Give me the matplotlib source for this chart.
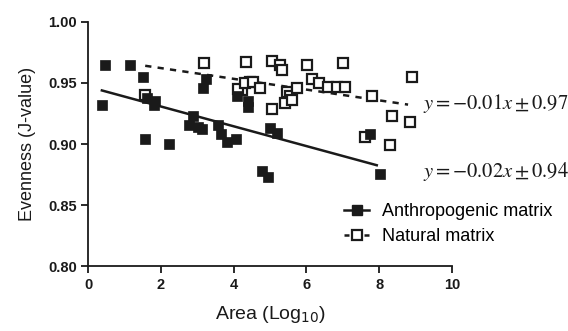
import numpy as np
import matplotlib
matplotlib.use('Agg')
import matplotlib.pyplot as plt

# anthropogenic matrix (filled squares)
anth_x = [0.37, 0.47, 1.15, 1.52, 1.61, 1.84, 1.80, 1.57, 2.22, 3.24, 3.17,
          2.89, 2.76, 3.12, 3.02, 3.58, 3.66, 3.81, 4.07, 4.08, 4.40, 4.38,
          4.77, 4.93, 5.00, 5.18, 7.75, 8.02]
anth_y = [0.932, 0.965, 0.965, 0.955, 0.938, 0.935, 0.932, 0.904, 0.900, 0.953, 0.946,
          0.923, 0.916, 0.912, 0.914, 0.916, 0.908, 0.902, 0.904, 0.939, 0.935, 0.930,
          0.878, 0.873, 0.913, 0.909, 0.908, 0.876]

# natural matrix (open squares)
nat_x = [1.57, 3.19, 4.33, 4.45, 4.22, 4.13, 4.31, 5.05, 5.27, 5.32, 6.01, 7.01,
         4.54, 4.73, 5.05, 5.46, 5.55, 5.41, 5.60, 5.73, 6.14, 6.33, 6.60, 6.83,
         7.06, 7.79, 8.89, 8.34, 8.85, 7.61, 8.30]
nat_y = [0.940, 0.966, 0.967, 0.951, 0.944, 0.945, 0.950, 0.968, 0.965, 0.961, 0.965, 0.966,
         0.951, 0.946, 0.929, 0.943, 0.939, 0.934, 0.936, 0.946, 0.953, 0.950, 0.947, 0.947,
         0.947, 0.939, 0.955, 0.923, 0.918, 0.906, 0.899]

# fitted lines as drawn (slope, intercept, x range)
anth_fit = (-0.0081, 0.947, 0.38, 7.93)
nat_fit = (-0.0044, 0.971, 1.57, 8.79)

eq_labels = [r'$y=-0.01x\pm0.97$', r'$y=-0.02x\pm0.94$']
eq_y = [0.929, 0.873]

xticks = [0, 2, 4, 6, 8, 10]
yticks = [0.80, 0.85, 0.90, 0.95, 1.00]

plt.rcParams['font.family'] = ['Liberation Sans', 'DejaVu Sans']
plt.rcParams['mathtext.fontset'] = 'stix'

fig = plt.figure(figsize=(5.68, 3.31), dpi=100)
ax = fig.add_axes([0.155, 0.195, 0.641, 0.739])

c = '#1a1a1a'
s, b, x0, x1 = anth_fit
fx = np.array([x0, x1])
ax.plot(fx, s * fx + b, color=c, lw=1.8, zorder=1)
s, b, x0, x1 = nat_fit
fx = np.array([x0, x1])
ax.plot(fx, s * fx + b, color=c, lw=1.8, ls=(0, (2.5, 2.5)), zorder=1)

ax.plot(nat_x, nat_y, 's', ms=7.5, mfc='white', mec=c, mew=1.6, ls='none', zorder=2)
ax.plot(anth_x, anth_y, 's', ms=7.5, mfc=c, mec=c, mew=0.5, ls='none', zorder=3)

for lab, yy in zip(eq_labels, eq_y):
    ax.text(9.2, yy, lab, fontsize=14.8, color=c, ha='left', va='baseline', clip_on=False)

# legend handles
h1, = ax.plot([], [], '-s', color=c, ms=7.5, mfc=c, mec=c, lw=1.8)
h2, = ax.plot([], [], ls=(0, (2, 2)), marker='s', color=c, ms=7.5, mfc='white', mew=1.6, lw=1.8)
ax.legend([h1, h2], ['Anthropogenic matrix', 'Natural matrix'], loc='lower right',
          bbox_to_anchor=(1.32, 0.02), frameon=False, fontsize=13, handlelength=1.4,
          handletextpad=0.7, labelspacing=0.45)

ax.set_xlim(0, 10)
ax.set_ylim(0.80, 1.00)
ax.set_xticks(xticks)
ax.set_yticks(yticks)
ax.set_xticklabels([str(t) for t in xticks], fontweight='bold', fontsize=10.5)
ax.set_yticklabels(['%.2f' % t for t in yticks], fontweight='bold', fontsize=10.5)
ax.tick_params(direction='out', length=5, width=1.3, color=c, labelcolor=c, pad=3)
for sp in ['top', 'right']:
    ax.spines[sp].set_visible(False)
for sp in ['left', 'bottom']:
    ax.spines[sp].set_linewidth(1.3)
    ax.spines[sp].set_color(c)

ax.set_xlabel(r'Area (Log$_{10}$)', fontsize=14, color=c, labelpad=9,
              math_fontfamily='dejavusans')
ax.set_ylabel('Evenness (J-value)', fontsize=13, color=c, labelpad=9)

fig.savefig('out.png', dpi=100)
